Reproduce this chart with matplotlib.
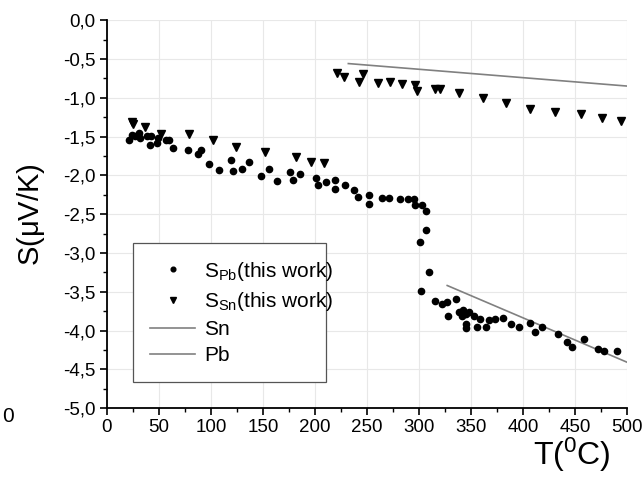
import matplotlib
matplotlib.use("Agg")
import matplotlib.pyplot as plt
from matplotlib.ticker import MultipleLocator, FuncFormatter

plt.rcParams['font.family'] = ['Liberation Sans', 'DejaVu Sans']
plt.rcParams['mathtext.fontset'] = 'custom'
plt.rcParams['mathtext.rm'] = 'Liberation Sans'
plt.rcParams['mathtext.it'] = 'Liberation Sans'

# S_Pb measured (T in C, S in uV/K)
pb_t = [21.5, 23.7, 26.9, 31.1, 31.7, 38.8, 42.0, 41.3, 47.8, 49.4, 56.7, 59.9, 63.8,
        78.2, 87.2, 90.4, 98.1, 107.7, 118.9, 121.5, 130.1, 136.2, 147.8, 155.5, 163.2,
        176.0, 179.1, 185.6, 200.9, 202.6, 211.0, 219.0, 219.2, 228.8, 237.5, 241.7,
        252.2, 252.2, 264.4, 270.8, 281.4, 289.1, 295.5, 296.5, 302.6, 306.7, 306.7,
        301.0, 301.6, 309.9, 315.4, 321.8, 327.2, 328.2, 335.3, 338.8, 342.0, 341.3,
        344.6, 347.8, 344.9, 345.2, 352.6, 356.1, 358.9, 364.7, 366.7, 373.1, 380.5,
        388.2, 396.2, 406.7, 410.9, 417.6, 433.7, 442.0, 447.1, 458.0, 471.8, 477.6, 489.7]
pb_s = [-1.55, -1.48, -1.49, -1.45, -1.52, -1.49, -1.49, -1.61, -1.58, -1.52, -1.54, -1.55, -1.65,
        -1.68, -1.73, -1.68, -1.86, -1.93, -1.80, -1.95, -1.92, -1.83, -2.01, -1.92, -2.07,
        -1.96, -2.06, -1.98, -2.04, -2.12, -2.09, -2.06, -2.17, -2.13, -2.19, -2.28,
        -2.26, -2.37, -2.29, -2.29, -2.30, -2.30, -2.30, -2.38, -2.38, -2.46, -2.71,
        -2.86, -3.49, -3.25, -3.62, -3.66, -3.63, -3.81, -3.60, -3.76, -3.73, -3.81,
        -3.79, -3.76, -3.91, -3.97, -3.81, -3.95, -3.85, -3.96, -3.87, -3.85, -3.84,
        -3.91, -3.95, -3.90, -4.02, -3.96, -4.05, -4.15, -4.21, -4.11, -4.24, -4.26, -4.26]

# S_Sn measured
sn_t = [23.8, 25.3, 36.5, 51.9, 78.6, 102.2, 123.8, 151.9, 181.7, 196.2, 208.4,
        221.2, 227.4, 245.9, 242.6, 260.3, 271.8, 283.7, 295.9, 298.1, 315.7, 320.2,
        338.8, 361.3, 383.4, 407.0, 430.8, 455.1, 476.0, 494.2]
sn_s = [-1.31, -1.34, -1.375, -1.47, -1.47, -1.55, -1.63, -1.70, -1.77, -1.83, -1.84,
        -0.68, -0.73, -0.69, -0.80, -0.81, -0.80, -0.82, -0.84, -0.91, -0.89, -0.89,
        -0.94, -1.01, -1.07, -1.15, -1.19, -1.21, -1.26, -1.30]

# reference lines
sn_line_t = [232, 500]
sn_line_s = [-0.56, -0.85]
pb_line_t = [327, 500]
pb_line_s = [-3.42, -4.41]

fig = plt.figure(figsize=(6.44, 4.79), dpi=100)
ax = fig.add_axes([0.166, 0.148, 0.808, 0.810])

ax.plot(pb_t, pb_s, 'o', color='black', markersize=4.5, linestyle='none',
        label=r'S$_{\mathrm{Pb}}$(this work)', zorder=3)
ax.plot(sn_t, sn_s, 'v', color='black', markersize=5.5, linestyle='none',
        label=r'S$_{\mathrm{Sn}}$(this work)', zorder=3)
ax.plot(sn_line_t, sn_line_s, '-', color='#808080', lw=1.2, label='Sn')
ax.plot(pb_line_t, pb_line_s, '-', color='#808080', lw=1.2, label='Pb')

ax.set_xlim(0, 500)
ax.set_ylim(-5, 0)
ax.xaxis.set_major_locator(MultipleLocator(50))
ax.xaxis.set_minor_locator(MultipleLocator(25))
ax.yaxis.set_major_locator(MultipleLocator(0.5))
ax.yaxis.set_minor_locator(MultipleLocator(0.25))
ax.yaxis.set_major_formatter(FuncFormatter(lambda v, p: ('%.1f' % v).replace('.', ',').replace('-0,0', '0,0')))
ax.grid(True, which='major', color='#e8e8e8', lw=0.8)
ax.set_axisbelow(True)

for s in ['top', 'right']:
    ax.spines[s].set_visible(False)
for s in ['left', 'bottom']:
    ax.spines[s].set_linewidth(1.3)
ax.tick_params(which='major', direction='out', length=5, width=1.2, labelsize=13.5, pad=3)
ax.tick_params(which='minor', direction='out', length=3, width=1.0)

ax.set_ylabel(r'S($\mathrm{\mu}$V/K)', fontsize=21)
ax.yaxis.set_label_coords(-0.115, 0.5)
ax.set_xlabel(r'T($^{\mathrm{0}}$C)', fontsize=23)
ax.xaxis.set_label_coords(0.894, -0.072)

leg = ax.legend(loc='lower left', bbox_to_anchor=(0.05, 0.067, 0.371, 0.358), mode='expand',
                fontsize=15, frameon=True, fancybox=False, framealpha=1,
                edgecolor='#555555', handlelength=2.2, handletextpad=0.4,
                labelspacing=0.35, borderaxespad=0, borderpad=0.8, markerscale=0.75)
leg.get_frame().set_linewidth(0.9)

fig.text(0.003, 0.118, '0', fontsize=15)

fig.savefig('out.png', dpi=100)
